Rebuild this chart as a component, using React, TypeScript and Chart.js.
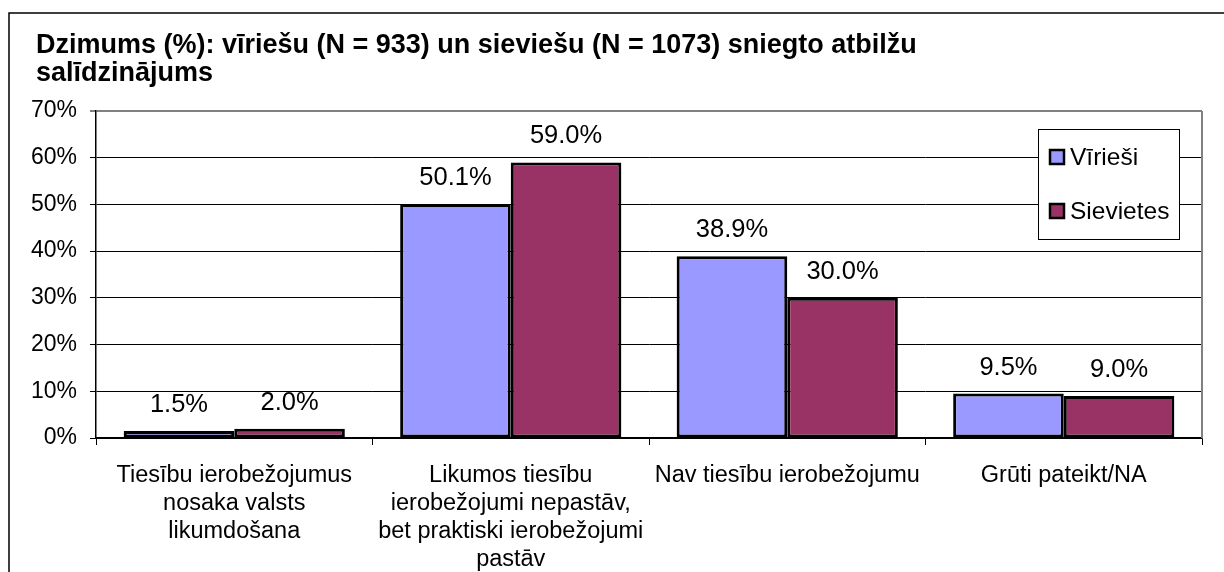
import React, { useEffect, useRef } from "react";
import { Chart, registerables } from "chart.js";

Chart.register(...registerables);

const titleLines = [
  "Dzimums (%): vīriešu (N = 933) un sieviešu (N = 1073) sniegto atbilžu",
  "salīdzinājums",
];
const categories: string[][] = [
  ["Tiesību ierobežojumus", "nosaka valsts", "likumdošana"],
  ["Likumos tiesību", "ierobežojumi nepastāv,", "bet praktiski ierobežojumi", "pastāv"],
  ["Nav tiesību ierobežojumu"],
  ["Grūti pateikt/NA"],
];
const seriesNames = ["Vīrieši", "Sievietes"];
const men = [1.5, 50.1, 38.9, 9.5];
const women = [2.0, 59.0, 30.0, 9.0];
const colors = ["#9999FF", "#993366"];
const yTicks = [0, 10, 20, 30, 40, 50, 60, 70];

const FONT = "Arial, 'Liberation Sans', sans-serif";

const framePlugin = {
  id: "frame",
  beforeDraw(chart: any) {
    const ctx = chart.ctx;
    ctx.save();
    ctx.strokeStyle = "#000";
    ctx.lineWidth = 1.5;
    ctx.beginPath();
    ctx.moveTo(9, 572);
    ctx.lineTo(9, 13);
    ctx.lineTo(1224, 13);
    ctx.stroke();
    ctx.fillStyle = "#000";
    ctx.font = `bold 27px ${FONT}`;
    ctx.textBaseline = "middle";
    ctx.textAlign = "left";
    ctx.fillText(titleLines[0], 36, 46);
    ctx.fillText(titleLines[1], 36, 74);
    ctx.restore();
  },
  afterDatasetsDraw(chart: any) {
    const ctx = chart.ctx;
    const area = chart.chartArea;
    ctx.save();
    // right plot border
    ctx.strokeStyle = "#808080";
    ctx.lineWidth = 2;
    ctx.beginPath();
    ctx.moveTo(area.right, area.top);
    ctx.lineTo(area.right, area.bottom);
    ctx.stroke();
    // data labels
    ctx.fillStyle = "#000";
    ctx.font = `25.5px ${FONT}`;
    ctx.textAlign = "center";
    ctx.textBaseline = "alphabetic";
    chart.data.datasets.forEach((ds: any, i: number) => {
      const meta = chart.getDatasetMeta(i);
      meta.data.forEach((bar: any, j: number) => {
        ctx.fillText(ds.data[j].toFixed(1) + "%", bar.x, bar.y - 19);
      });
    });
    // legend
    const lx = 1038, ly = 129, lw = 141, lh = 110;
    ctx.fillStyle = "#fff";
    ctx.fillRect(lx, ly, lw, lh);
    ctx.strokeStyle = "#000";
    ctx.lineWidth = 1;
    ctx.strokeRect(lx + 0.5, ly + 0.5, lw, lh);
    ctx.textAlign = "left";
    ctx.textBaseline = "middle";
    ctx.font = `24.5px ${FONT}`;
    seriesNames.forEach((name, i) => {
      const cy = 157 + i * 54;
      ctx.fillStyle = colors[i];
      ctx.fillRect(1050, cy - 7, 14, 14);
      ctx.strokeStyle = "#000";
      ctx.lineWidth = 2.5;
      ctx.strokeRect(1050, cy - 7, 14, 14);
      ctx.fillStyle = "#000";
      ctx.fillText(name, 1070, cy + 1);
    });
    ctx.restore();
  },
};

export default function App() {
  const ref = useRef<HTMLCanvasElement>(null);
  useEffect(() => {
    if (!ref.current) return;
    const chart = new Chart(ref.current, {
      type: "bar",
      data: {
        labels: categories,
        datasets: [
          {
            label: seriesNames[0],
            data: men,
            backgroundColor: colors[0],
            borderColor: "#000",
            borderWidth: 3,
            borderSkipped: false,
            barPercentage: 1,
            categoryPercentage: 0.8,
          },
          {
            label: seriesNames[1],
            data: women,
            backgroundColor: colors[1],
            borderColor: "#000",
            borderWidth: 3,
            borderSkipped: false,
            barPercentage: 1,
            categoryPercentage: 0.8,
          },
        ],
      },
      options: {
        animation: false,
        responsive: false,
        maintainAspectRatio: false,
        layout: { padding: { top: 111, right: 22, left: 0, bottom: 0 } },
        plugins: {
          legend: { display: false },
          title: { display: false },
          tooltip: { enabled: false },
        },
        scales: {
          x: {
            offset: true,
            grid: {
              offset: true,
              drawOnChartArea: false,
              drawTicks: true,
              tickLength: 7,
              color: "#000",
              lineWidth: 1,
            },
            border: { color: "#000", width: 1.5 },
            ticks: {
              color: "#000",
              font: { family: FONT, size: 23.5, lineHeight: 1.2 },
              maxRotation: 0,
              minRotation: 0,
              autoSkip: false,
              padding: 16,
            },
            afterFit: (s: any) => {
              s.height = 572 - 438;
            },
          },
          y: {
            min: 0,
            max: 70,
            afterBuildTicks: (s: any) => {
              s.ticks = yTicks.map((v) => ({ value: v }));
            },
            grid: {
              color: (c: any) => (c.tick && c.tick.value === 70 ? "#808080" : "#000"),
              lineWidth: (c: any) => (c.tick && c.tick.value === 70 ? 2 : 1),
              tickLength: 6,
              drawTicks: true,
            },
            border: { color: "#000", width: 1.5 },
            ticks: {
              color: "#000",
              font: { family: FONT, size: 23 },
              padding: 13,
              callback: (v: any) => `${v}%`,
            },
            afterFit: (s: any) => {
              s.width = 96;
            },
          },
        },
      },
      plugins: [framePlugin],
    });
    return () => chart.destroy();
  }, []);
  return (
    <div style={{ position: "absolute", left: 0, top: 0, width: 1224, height: 572, background: "#fff" }}>
      <canvas ref={ref} width={1224} height={572} style={{ width: 1224, height: 572 }} />
    </div>
  );
}
